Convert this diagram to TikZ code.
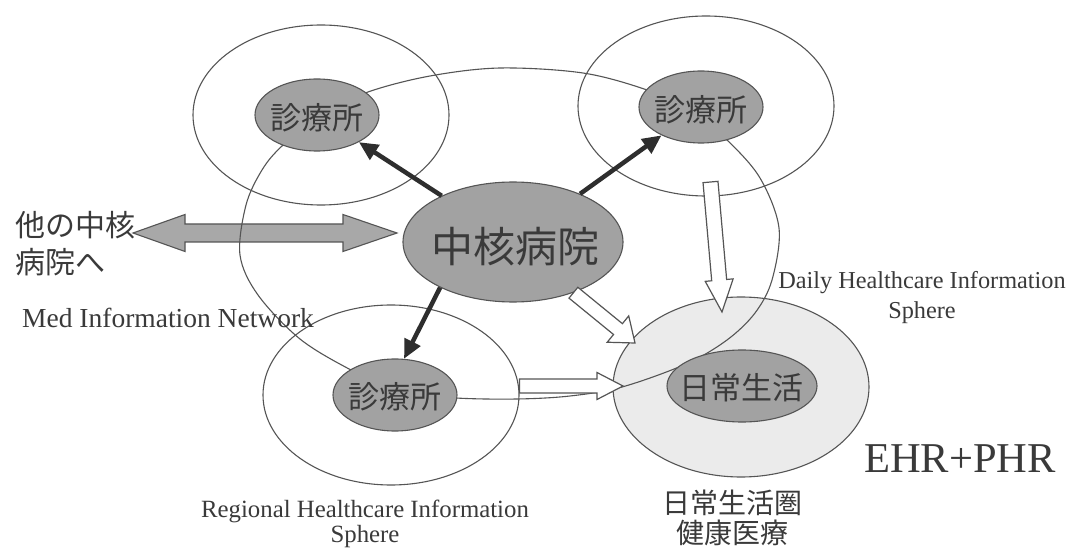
\documentclass[tikz,border=0pt]{standalone}
\usepackage{fontspec}
\setmainfont{Liberation Serif}
\newfontfamily\jp{Noto Sans CJK JP}
\usetikzlibrary{shapes.geometric,arrows.meta,calc}
\definecolor{linec}{HTML}{555555}
\definecolor{nodefill}{HTML}{A2A2A2}
\definecolor{spherefill}{HTML}{EBEBEB}
\definecolor{darkarr}{HTML}{2E2E2E}
\definecolor{dblfill}{HTML}{A8A8A8}
\definecolor{txtc}{HTML}{3A3A3A}
\newcommand{\blockarr}[5]{%
  \coordinate (bah) at ($(#2)!#5!(#1)$);
  \draw[blockarrow] ($(#1)!#3!90:(#2)$) -- ($(bah)!#3!90:(#2)$) -- ($(bah)!#4!90:(#2)$) -- (#2)
    -- ($(bah)!#4!-90:(#2)$) -- ($(bah)!#3!-90:(#2)$) -- ($(#1)!#3!-90:(#2)$) -- cycle;
}
\begin{document}
\begin{tikzpicture}[x=1pt,y=-1pt,
  thinline/.style={draw=linec,line width=1.1pt},
  outer/.style={ellipse,draw=linec,line width=1.1pt,inner sep=0pt,minimum width=256pt,minimum height=180pt},
  clinic/.style={ellipse,draw=linec,line width=1.1pt,fill=nodefill,inner sep=0pt,minimum width=124pt,minimum height=72pt},
  jptext/.style={inner sep=0pt,text=txtc,font=\jp\fontsize{31}{31}\selectfont},
  entext/.style={inner sep=0pt,text=txtc},
  darkarrow/.style={draw=darkarr,line width=4.5pt,-{Triangle[length=19pt,width=17pt]}},
  blockarrow/.style={draw=linec,line width=1.2pt,fill=white,line join=miter},
  dblarrow/.style={draw=linec,line width=1.1pt,fill=dblfill}
]
\useasboundingbox[fill=white] (0,0) rectangle (1072,548);

% spheres
\node[outer,fill=spherefill] (daily) at (741,387) {};
\node[outer] (tlo) at (321,115) {};
\node[outer] (tro) at (706,106) {};
\node[outer] (blo) at (391,395) {};

% double arrow to other hospitals
\coordinate (dl) at (133,233);
\coordinate (dr) at (397,233);
\coordinate (dh1) at ($(dl)!52pt!(dr)$);
\coordinate (dh2) at ($(dr)!54pt!(dl)$);
\draw[dblarrow] (dl) -- ($(dh1)!18.5pt!90:(dr)$) -- ($(dh1)!9pt!90:(dr)$) -- ($(dh2)!9pt!-90:(dl)$)
  -- ($(dh2)!18.5pt!-90:(dl)$) -- (dr) -- ($(dh2)!18.5pt!90:(dl)$) -- ($(dh2)!9pt!90:(dl)$)
  -- ($(dh1)!9pt!-90:(dr)$) -- ($(dh1)!18.5pt!-90:(dr)$) -- cycle;

% network loop
\draw[thinline] plot[smooth cycle, tension=0.55] coordinates {
  (368,92) (430,76) (500,68) (583,73) (647,90) (690,110) (727,140) (760,178) (779,228)
  (772,280) (755,313) (727,340) (686,364) (622,387) (570,396) (517,399) (456,398)
  (400,392) (351,370) (300,339) (258,295) (240,255) (246,205) (262,170) (282,146) (320,115)};

% filled nodes
\node[clinic] (tlc) at (317,115) {};
\node[clinic] (trc) at (701,107) {};
\node[clinic] (blc) at (395,395) {};
\node[clinic,minimum width=220pt,minimum height=120pt] (hub) at (513,242) {};
\node[clinic,minimum width=150pt,minimum height=72pt] (life) at (742,386) {};

\node[jptext] (tlct) at (317,118) {診療所};
\node[jptext] (trct) at (701,110) {診療所};
\node[jptext] (blct) at (395,397) {診療所};
\node[jptext,font=\jp\fontsize{42}{42}\selectfont] (hubt) at (515,247) {中核病院};
\node[jptext] (lifet) at (741,388) {日常生活};

% dark arrows
\draw[darkarrow] (hub) -- (tlc);
\draw[darkarrow] (hub) -- (trc);
\draw[darkarrow] (hub.212) -- (blc.76);

% white block arrows
\coordinate (vs) at (710.5,182);
\coordinate (ve) at (722,312);
\blockarr{vs}{ve}{7.5pt}{14pt}{32pt}
\coordinate (ds) at (hub.-40);
\coordinate (de) at (635,343);
\blockarr{ds}{de}{7pt}{17pt}{22pt}
\coordinate (hs) at ($(blo.east)+(0,-9)$);
\coordinate (he) at (623,386);
\blockarr{hs}{he}{7pt}{13.5pt}{26pt}

% labels
\node[jptext,font=\jp\fontsize{30}{30}\selectfont,anchor=west] (oth1) at (15,225) {他の中核};
\node[jptext,font=\jp\fontsize{30}{30}\selectfont,anchor=west] (oth2) at (15,262) {病院へ};
\node[entext,font=\fontsize{27.5}{30}\selectfont,anchor=base west] (medl) at (22,328) {Med Information Network};
\node[entext,font=\fontsize{24.8}{28}\selectfont,anchor=base] (reg1) at (365,517) {Regional Healthcare Information};
\node[entext,font=\fontsize{24.8}{28}\selectfont,anchor=base] (reg2) at (365,542) {Sphere};
\node[entext,font=\fontsize{24.3}{28}\selectfont,anchor=base] (day1) at (922,289) {Daily Healthcare Information};
\node[entext,font=\fontsize{24.3}{28}\selectfont,anchor=base] (day2) at (922,319) {Sphere};
\node[entext,font=\fontsize{42.5}{45}\selectfont,anchor=base west] (ehr) at (864,472) {EHR+PHR};
\node[jptext,font=\jp\fontsize{28}{28}\selectfont] (dl1) at (732,503) {日常生活圏};
\node[jptext,font=\jp\fontsize{28}{28}\selectfont] (dl2) at (732,533) {健康医療};
\end{tikzpicture}
\end{document}
